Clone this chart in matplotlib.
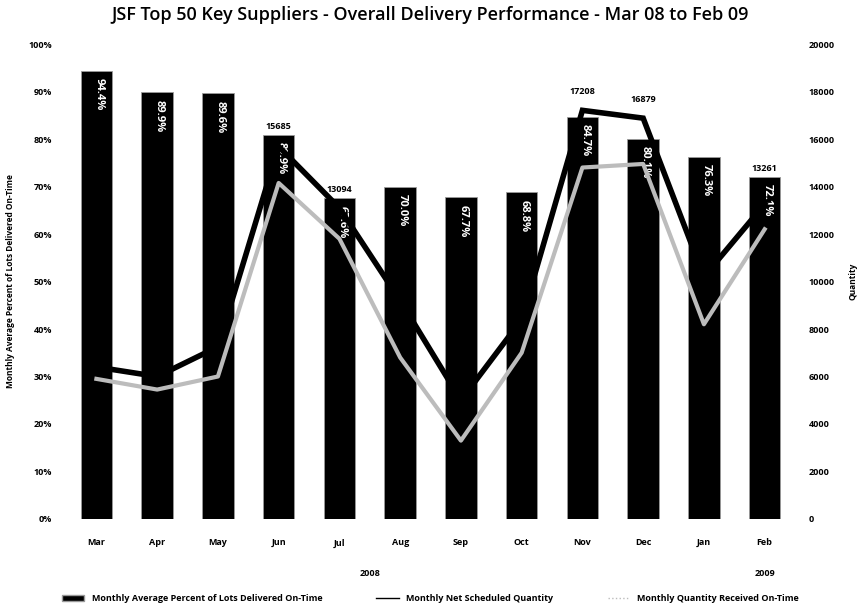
import numpy as np
import matplotlib.pyplot as plt
from matplotlib.ticker import FuncFormatter, MultipleLocator

# datos
meses = ['Mar', 'Apr', 'May', 'Jun', 'Jul', 'Aug', 'Sep', 'Oct', 'Nov', 'Dec', 'Jan', 'Feb']
pct_a_tiempo = [94.4, 89.9, 89.6, 80.9, 67.6, 70.0, 67.7, 68.8, 84.7, 80.1, 76.3, 72.1]
cant_programada = [6400, 6000, 7250, 15685, 13094, 9200, 5000, 8400, 17208, 16879, 10200, 13261]
cant_recibida = [5900, 5450, 6000, 14150, 11800, 6800, 3300, 7000, 14800, 14950, 8200, 12200]
etiquetas_linea = {3: '15685', 4: '13094', 8: '17208', 9: '16879', 11: '13261'}

plt.rcParams['font.family'] = ['Open Sans', 'DejaVu Sans']

fig = plt.figure(figsize=(8.61, 6.16), dpi=100)
ax = fig.add_axes([0.0767, 0.1575, 0.8467, 0.771])
ax2 = ax.twinx()

x = np.arange(len(meses))
ax.bar(x, pct_a_tiempo, width=0.52, color='black', edgecolor='#9a9a9a', linewidth=0.6, zorder=2)
for i, v in enumerate(pct_a_tiempo):
    ax.text(i + 0.04, v - 1.6, '%.1f%%' % v, color='white', rotation=270, ha='center', va='top',
            fontsize=8, fontweight='bold', zorder=3)

ax.set_xlim(-0.5, 11.5)
ax.set_ylim(0, 100)
ax.yaxis.set_major_locator(MultipleLocator(10))
ax.yaxis.set_major_formatter(FuncFormatter(lambda v, p: '%d%%' % v))
ax.set_xticks(x)
ax.set_xticklabels(meses)
ax.set_ylabel('Monthly Average Percent of Lots Delivered On-Time', fontsize=6, fontweight='bold', labelpad=10)

# lineas de cantidad en el eje derecho
ax2.plot(x, cant_programada, color='black', linewidth=4, zorder=4, solid_joinstyle='miter')
ax2.plot(x, cant_recibida, color='#bcbcbc', linewidth=3, zorder=5)
ax2.set_ylim(0, 20000)
for i, t in etiquetas_linea.items():
    # la etiqueta queda sobre el punto, o justo encima de la barra si esta la tapa
    tope_barra = pct_a_tiempo[i] / 100 * 20000
    y_txt = max(cant_programada[i] + 600, tope_barra + 150)
    ax2.text(i, y_txt, t, ha='center', va='bottom', fontsize=6.5, fontweight='bold')
ax2.yaxis.set_major_locator(MultipleLocator(2000))
ax2.set_ylabel('Quantity', fontsize=6, fontweight='bold', labelpad=10)
ax2.patch.set_visible(False)

for a in (ax, ax2):
    for s in a.spines.values():
        s.set_visible(False)
    a.tick_params(axis='both', length=0, labelsize=6.5, pad=10)
    for lbl in a.get_yticklabels() + a.get_xticklabels():
        lbl.set_fontweight('bold')
ax.tick_params(axis='x', pad=14)

ax.text(4.5, -11.5, '2008', ha='center', va='center', fontsize=6.5, fontweight='bold')
ax.text(11, -11.5, '2009', ha='center', va='center', fontsize=6.5, fontweight='bold')

fig.text(0.5, 0.975, 'JSF Top 50 Key Suppliers - Overall Delivery Performance - Mar 08 to Feb 09',
         ha='center', va='center', fontsize=13, fontweight='semibold')

h1 = plt.Rectangle((0, 0), 1, 1, color='black', ec='#9a9a9a')
h2, = ax2.plot([], [], color='black', linewidth=1)
h3, = ax2.plot([], [], color='#bcbcbc', linewidth=1, linestyle=':')
fig.legend([h1, h2, h3], ['Monthly Average Percent of Lots Delivered On-Time',
                          'Monthly Net Scheduled Quantity', 'Monthly Quantity Received On-Time'],
           loc='center', bbox_to_anchor=(0.5, 0.028), ncol=3, frameon=False,
           prop={'size': 6.5, 'weight': 'bold'}, handlelength=2.5, columnspacing=6)

fig.savefig('out.png', dpi=100)
